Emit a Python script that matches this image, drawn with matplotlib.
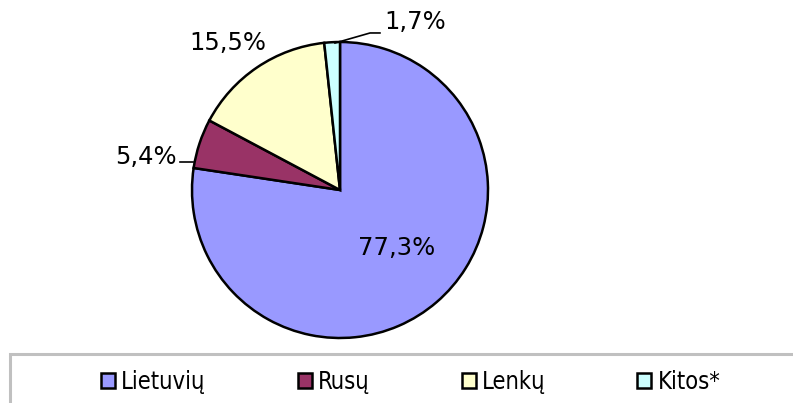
import matplotlib
matplotlib.use("Agg")
import matplotlib.pyplot as plt
from matplotlib.patches import Rectangle
from matplotlib import font_manager as fm

categories = ["Lietuvių", "Rusų", "Lenkų", "Kitos*"]
values = [77.3, 5.4, 15.5, 1.7]
labels = ["77,3%", "5,4%", "15,5%", "1,7%"]
colors = ["#9999FF", "#993366", "#FFFFCC", "#CCFFFF"]

W, H = 793, 403
fig = plt.figure(figsize=(W / 100, H / 100), dpi=100)
fig.patch.set_facecolor("white")

cx, cy, r = 340, 190, 148
ax = fig.add_axes([(cx - r) / W, (H - cy - r) / H, 2 * r / W, 2 * r / H])
wedges, _ = ax.pie(values, colors=colors, startangle=90, counterclock=False,
                   wedgeprops=dict(edgecolor="black", linewidth=1.8))
ax.set_xlim(-1, 1)
ax.set_ylim(-1, 1)
ax.set_aspect("equal")
ax.axis("off")

fs = 17.5
font = ["DejaVu Sans"]
ax.text(0.385, -0.39, labels[0], ha="center", va="center", fontsize=fs, family=font)
ax.text(-1.10, 0.225, labels[1], ha="right", va="center", fontsize=fs, family=font)
ax.plot([-1.08, -0.99], [0.189, 0.189], color="black", lw=1.2, clip_on=False)
ax.text(-0.76, 0.993, labels[2], ha="center", va="center", fontsize=fs, family=font)
ax.text(0.30, 1.135, labels[3], ha="left", va="center", fontsize=fs, family=font)
ax.plot([-0.034, 0.203, 0.27], [0.993, 1.061, 1.061], color="black", lw=1.2, clip_on=False)

fig.patches.append(Rectangle((10 / W, -0.1), 1.0, (H - 354) / H + 0.1,
                             transform=fig.transFigure, facecolor="white",
                             edgecolor="#C0C0C0", linewidth=2.2, zorder=0))

lfs = 17
prop = fm.FontProperties(family=["DejaVu Sans"], stretch="condensed", size=lfs)
leg = fig.legend(wedges, categories, ncol=4, loc="center left",
                 bbox_to_anchor=(101 / W, (H - 382) / H), frameon=False,
                 borderpad=0, borderaxespad=0,
                 handlelength=0.6, handleheight=0.6, handletextpad=0.25,
                 columnspacing=3.9, prop=prop)
for h in leg.legend_handles:
    h.set_linewidth(1.8)
    h.set_edgecolor("black")

fig.savefig("out.png", dpi=100)
